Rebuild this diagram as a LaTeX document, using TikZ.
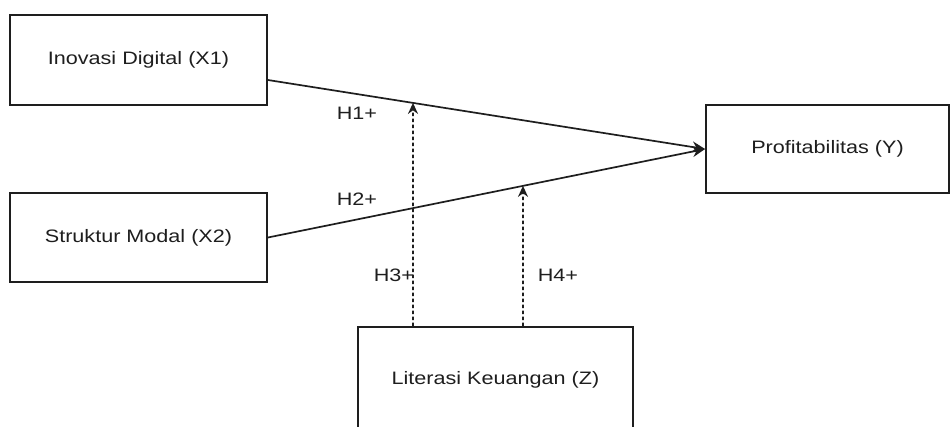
\documentclass[tikz,border=0pt]{standalone}
\usepackage{fontspec}
\setmainfont{Liberation Sans}[FakeStretch=1.2]
\usetikzlibrary{arrows.meta,calc}
\definecolor{ink}{HTML}{1E1E1E}
\tikzset{
  varbox/.style={draw=ink, line width=1.8pt, fill=white, inner sep=0pt,
    font=\fontsize{18}{20}\selectfont, text=ink},
  effect/.style={draw=ink, line width=1.7pt, -{Stealth[length=13pt,width=11pt]}},
  moder/.style={draw=ink, line width=1.6pt, dash pattern=on 3.5pt off 2.5pt,
    -{Stealth[length=11pt,width=10pt]}},
  hyp/.style={font=\fontsize{18}{20}\selectfont, text=ink, inner sep=0pt}
}
\begin{document}
\begin{tikzpicture}[x=1pt,y=-1pt]
  \useasboundingbox (0,0) rectangle (951,426);
  \clip (0,0) rectangle (951,426);
  \fill[white] (0,0) rectangle (951,426);

  % variables
  \node[varbox, minimum width=257pt, minimum height=90pt] (X1) at (138.5,60) {Inovasi Digital (X1)};
  \node[varbox, minimum width=257pt, minimum height=89pt] (X2) at (138.5,237.5) {Struktur Modal (X2)};
  \node[varbox, minimum width=243pt, minimum height=88pt] (Y) at (827.5,149) {Profitabilitas (Y)};
  \node[varbox, minimum width=275pt, minimum height=105pt] (Z) at (495.5,379.5) {Literasi Keuangan (Z)};

  % direct effects
  \coordinate (x1out) at ([yshift=-20pt]X1.east);
  \draw[effect] (x1out) -- (Y.west);
  \draw[effect] (X2.east) -- (Y.west);

  % moderation paths
  \coordinate (z1) at ([xshift=-82.5pt]Z.north);
  \coordinate (z2) at ([xshift=27.5pt]Z.north);
  \coordinate (m1) at (intersection of x1out--Y.west and z1--{$(z1)+(0,-300)$});
  \coordinate (m2) at (intersection of X2.east--Y.west and z2--{$(z2)+(0,-300)$});
  \draw[moder] (z1) -- (m1);
  \draw[moder] (z2) -- (m2);

  % hypothesis labels
  \node[hyp] (h1) at (357,113) {H1+};
  \node[hyp] (h2) at (357,199) {H2+};
  \node[hyp] (h3) at (394,275) {H3+};
  \node[hyp] (h4) at (558,275) {H4+};
\end{tikzpicture}
\end{document}
